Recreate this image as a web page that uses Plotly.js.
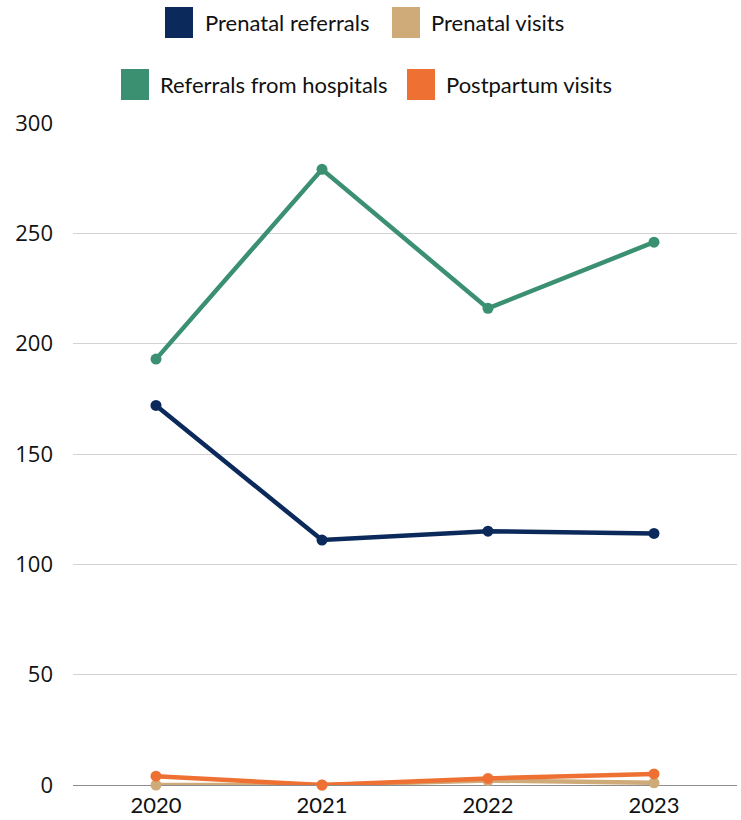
<!DOCTYPE html>
<html>
<head>
<meta charset="utf-8">
<script src="https://cdn.plot.ly/plotly-3.0.1.min.js"></script>
<style>html,body{margin:0;padding:0;background:#fff;}#chart{width:741px;height:820px;}</style>
</head>
<body>
<div id="chart"></div>
<script>
const years = ['2020', '2021', '2022', '2023'];
const prenatalReferrals = [172, 111, 115, 114];
const prenatalVisits = [0, 0, 2, 1];
const hospitalReferrals = [193, 279, 216, 246];
const postpartumVisits = [4, 0, 3, 5];
const seriesNames = ['Prenatal referrals', 'Prenatal visits', 'Referrals from hospitals', 'Postpartum visits'];
const seriesColors = ['#0b2a5b', '#cfab7a', '#3c9072', '#ee7032'];
const yTicks = [0, 50, 100, 150, 200, 250, 300];

const W = 741, H = 820;
const M = {l: 73, r: 4, t: 123, b: 35};
const pw = W - M.l - M.r, ph = H - M.t - M.b;
const px = x => (x - M.l) / pw;
const py = y => (H - M.b - y) / ph;

const seriesValues = [prenatalReferrals, prenatalVisits, hospitalReferrals, postpartumVisits];
const traces = seriesValues.map((vals, i) => ({
  type: 'scatter', mode: 'lines+markers', x: years, y: vals, name: seriesNames[i],
  line: {color: seriesColors[i], width: 4.5},
  marker: {color: seriesColors[i], size: 11},
  cliponaxis: false, showlegend: false
}));

// manual legend: [square left px, top px, text left px]
const legendPos = [
  [165, 7, 203], [392, 7, 429],
  [121, 69, 158], [407, 69, 444]
];
const shapes = [], annotations = [];
legendPos.forEach((p, i) => {
  shapes.push({type: 'rect', xref: 'paper', yref: 'paper',
    x0: px(p[0]), x1: px(p[0] + 28), y0: py(p[1] + 31), y1: py(p[1]),
    fillcolor: seriesColors[i], line: {width: 0}});
  annotations.push({xref: 'paper', yref: 'paper', x: px(p[2]), y: py(p[1] + 15.5),
    xanchor: 'left', yanchor: 'middle', showarrow: false, text: seriesNames[i],
    font: {family: 'Lato, Carlito, sans-serif', size: 22, color: '#111'}});
});

const layout = {
  width: W, height: H, margin: M,
  paper_bgcolor: '#fff', plot_bgcolor: '#fff', showlegend: false,
  font: {family: 'Lato, sans-serif', color: '#111'},
  xaxis: {type: 'category', range: [-0.5, 3.5], tickvals: years, ticktext: years, showgrid: false, zeroline: false,
    showline: false, ticks: '', ticklabelstandoff: 5, tickfont: {family: 'Lato, sans-serif', size: 22, color: '#111'}},
  yaxis: {range: [0, 300], tickvals: yTicks, ticktext: yTicks.map(String),
    showgrid: true, gridcolor: '#d3d3d3', gridwidth: 1,
    zeroline: true, zerolinecolor: '#8c8c8c', zerolinewidth: 1,
    showline: false, ticks: '', ticklabelstandoff: 19,
    tickfont: {family: 'Open Sans, sans-serif', size: 22, color: '#111'}},
  shapes: shapes, annotations: annotations
};
Plotly.newPlot('chart', traces, layout, {displayModeBar: false, staticPlot: true});
</script>
</body>
</html>
